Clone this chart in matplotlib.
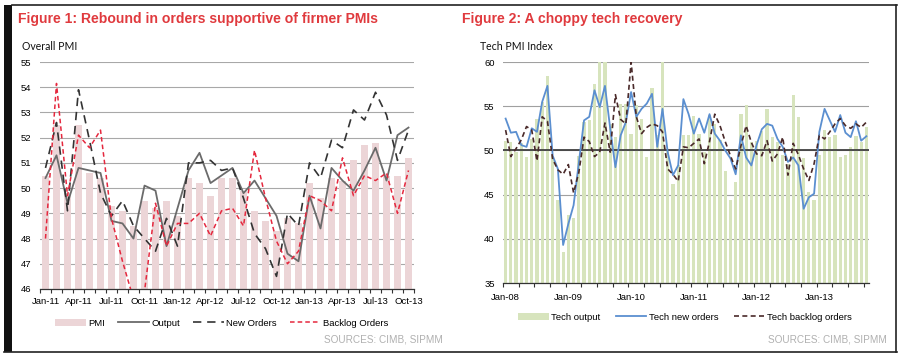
import numpy as np
import matplotlib
matplotlib.use("Agg")
import matplotlib.pyplot as plt
from matplotlib.lines import Line2D
from matplotlib.patches import Rectangle

plt.rcParams['font.family'] = ['Liberation Sans', 'DejaVu Sans']

# ---- Figure 1: overall PMI, Jan-11 .. Oct-13 (monthly)
ticks1 = ['Jan-11', 'Apr-11', 'Jul-11', 'Oct-11', 'Jan-12', 'Apr-12',
          'Jul-12', 'Oct-12', 'Jan-13', 'Apr-13', 'Jul-13', 'Oct-13']
pmi = [50.5, 52.5, 49.8, 52.5, 50.6, 50.4, 49.3, 49.1, 48.5, 49.5, 49.2, 49.5,
       48.9, 50.4, 50.2, 49.7, 50.4, 50.4, 49.9, 49.1, 48.7, 48.3, 48.8, 48.6,
       50.2, 49.6, 50.4, 50.3, 51.1, 51.7, 51.8, 50.5, 50.5, 51.2]
output = [50.4, 51.3, 49.4, 50.8, 50.7, 50.6, 48.7, 48.6, 48.0, 50.1, 49.9, 47.7,
          49.2, 50.7, 51.4, 50.2, 50.5, 50.8, 49.8, 50.3, 49.6, 48.9, 47.4, 47.1,
          49.7, 48.4, 50.8, 50.3, 49.9, 50.7, 51.6, 50.3, 52.1, 52.4]
new_orders = [50.8, 52.6, 49.1, 53.9, 51.9, 49.8, 48.9, 49.5, 48.5, 48.0, 47.5, 48.8,
              47.7, 51.0, 51.0, 51.1, 50.7, 50.8, 49.6, 48.2, 47.6, 46.5, 49.0, 48.5,
              51.0, 50.4, 51.9, 51.6, 53.1, 52.7, 53.8, 52.9, 51.1, 52.3]
backlog = [48.0, 54.15, 49.7, 52.1, 51.6, 52.3, 48.8, 47.1, 45.6, 45.9, 49.4, 47.7,
           48.6, 48.6, 49.0, 48.1, 49.1, 49.2, 48.5, 51.5, 49.6, 47.9, 47.0, 47.5,
           49.7, 49.5, 49.1, 51.2, 49.7, 50.5, 50.3, 50.6, 49.0, 50.7]

# ---- Figure 2: tech PMI, Jan-08 .. Oct-13 (monthly)
ticks2 = ['Jan-08', 'Jan-09', 'Jan-10', 'Jan-11', 'Jan-12', 'Jan-13']
tech_output = [51.1, 51.0, 49.8, 50.8, 49.2, 51.3, 53.6, 55.5, 58.4, 49.4, 44.4, 38.5,
               42.7, 42.3, 49.4, 53.2, 53.4, 57.5, 60.0, 60.0, 53.0, 51.5, 55.3, 55.2,
               51.9, 55.1, 53.6, 49.2, 57.1, 51.7, 60.0, 50.0, 46.2, 48.3, 51.7, 51.7,
               53.9, 51.9, 49.8, 54.0, 53.0, 51.2, 47.7, 44.4, 46.4, 54.1, 55.1, 51.0,
               51.1, 52.2, 54.7, 51.5, 50.9, 49.5, 48.5, 56.3, 53.8, 49.1, 45.3, 44.4,
               49.5, 52.3, 51.5, 51.7, 49.2, 49.5, 50.4, 51.6, 51.0, 52.6]
tech_new = [53.6, 52.0, 52.1, 50.6, 50.4, 52.5, 52.1, 55.5, 57.3, 49.4, 47.9, 39.3,
            41.7, 43.8, 48.6, 53.4, 53.8, 56.8, 54.9, 57.3, 52.5, 48.1, 51.7, 53.2,
            56.6, 53.8, 54.7, 55.3, 56.4, 50.4, 54.7, 49.8, 47.2, 48.3, 55.8, 54.1,
            51.9, 53.6, 52.0, 54.1, 51.9, 51.1, 50.0, 49.1, 47.3, 51.7, 49.2, 48.3,
            50.6, 52.4, 53.0, 52.8, 51.3, 50.4, 48.7, 49.2, 48.3, 43.4, 44.7, 45.1,
            52.1, 54.7, 53.4, 52.1, 54.0, 52.0, 51.5, 53.3, 51.1, 51.6]
tech_backlog = [52.3, 49.3, 50.2, 51.2, 52.7, 52.3, 48.8, 53.8, 53.3, 49.0, 47.8, 47.3,
                48.4, 45.2, 47.5, 51.5, 51.0, 49.3, 49.8, 53.1, 49.8, 56.3, 53.5, 53.0,
                60.0, 53.8, 51.9, 52.6, 53.0, 52.8, 52.1, 47.9, 47.3, 46.5, 50.4, 50.3,
                50.8, 51.3, 48.5, 51.0, 54.1, 52.8, 51.0, 49.4, 47.9, 50.5, 52.8, 50.9,
                49.6, 49.4, 51.1, 48.8, 49.6, 51.5, 47.2, 50.8, 49.5, 47.9, 46.6, 48.5,
                51.7, 51.3, 52.1, 53.0, 53.6, 52.8, 52.5, 53.0, 52.6, 53.2]

W, H = 900, 358
fig = plt.figure(figsize=(9, 3.58), dpi=100)


def fx(px):
    return px / W


def fy(py):
    return 1 - py / H


# frame of the screenshot
fig.add_artist(Rectangle((fx(4), fy(352)), fx(8), fy(5) - fy(352),
                         transform=fig.transFigure, color='#111111', lw=0))
for xs, ys in [((12, 897), (5, 5)), ((4, 897), (352, 352)), ((896, 896), (5, 352))]:
    fig.add_artist(Line2D([fx(xs[0]), fx(xs[1])], [fy(ys[0]), fy(ys[1])],
                          transform=fig.transFigure, color='#222222', lw=1.2))

red = '#e03a3e'
fig.text(fx(18), fy(19), 'Figure 1: Rebound in orders supportive of firmer PMIs',
         color=red, fontsize=10.1, fontweight='bold', va='center')
fig.text(fx(462), fy(19), 'Figure 2: A choppy tech recovery',
         color=red, fontsize=10.1, fontweight='bold', va='center')
fig.text(fx(22), fy(47), 'Overall PMI', fontsize=7.6, va='center',
         family=['Lato', 'DejaVu Sans'], color='#111111')
fig.text(fx(480), fy(47), 'Tech PMI Index', fontsize=7.6, va='center',
         family=['Lato', 'DejaVu Sans'], color='#111111')
fig.text(fx(443), fy(340), 'SOURCES: CIMB, SIPMM', fontsize=7.2, color='#b0b0b0',
         ha='right', va='center')
fig.text(fx(887), fy(340), 'SOURCES: CIMB, SIPMM', fontsize=7.2, color='#b0b0b0',
         ha='right', va='center')

# ---------------- left chart
ax1 = fig.add_axes([fx(40), fy(289), fx(414) - fx(40), fy(62) - fy(289)])
x1 = np.arange(len(pmi))
ax1.bar(x1, pmi, width=0.72, color='#ecd5d7', label='PMI', zorder=2)
ax1.plot(x1, output, color='#6b6b6b', lw=1.3, label='Output', zorder=3)
ax1.plot(x1, new_orders, color='#333333', lw=1.2, dashes=(5, 3.5),
         label='New Orders', zorder=4)
ax1.plot(x1, backlog, color='#e5283e', lw=1.1, dashes=(3, 2),
         label='Backlog Orders', zorder=5)
ax1.set_xlim(-0.5, len(pmi) - 0.5)
ax1.set_ylim(46, 55)
ax1.set_yticks(range(46, 56))
ax1.set_xticks(x1[::3])
ax1.set_xticklabels(ticks1)
ax1.set_xticks(np.arange(-0.5, len(pmi)), minor=True)
ax1.yaxis.grid(True, color='#a8a8a8', lw=0.8)
ax1.set_axisbelow(True)
for s in ['left', 'right', 'top']:
    ax1.spines[s].set_visible(False)
ax1.spines['bottom'].set_color('#333333')
ax1.spines['bottom'].set_linewidth(0.9)
ax1.tick_params(axis='x', which='major', length=0, pad=6, labelsize=6.8)
ax1.tick_params(axis='x', which='minor', length=3, width=0.8, color='#333333')
ax1.tick_params(axis='y', length=0, pad=6, labelsize=6.8)
h, l = ax1.get_legend_handles_labels()
fig.legend(h[-1:] + h[:-1], l[-1:] + l[:-1], loc='center',
           bbox_to_anchor=(fx(222), fy(323)), ncol=4, frameon=False,
           fontsize=6.8, handlelength=3.2, handleheight=0.8,
           handletextpad=0.3, columnspacing=1.4)

# ---------------- right chart
ax2 = fig.add_axes([fx(503), fy(283), fx(869) - fx(503), fy(62) - fy(283)])
x2 = np.arange(len(tech_output))
ax2.bar(x2, tech_output, width=0.62, color='#d7e4bd', label='Tech output', zorder=2)
ax2.plot(x2, tech_new, color='#5b8fd0', lw=1.3, label='Tech new orders', zorder=4)
ax2.plot(x2, tech_backlog, color='#4a2a2a', lw=1.2, dashes=(3, 2),
         label='Tech backlog orders', zorder=5)
ax2.axhline(50, color='#404040', lw=1.3, zorder=3)
ax2.set_xlim(-0.5, len(tech_output) - 0.5)
ax2.set_ylim(35, 60)
ax2.set_yticks(range(35, 61, 5))
ax2.set_xticks(x2[::12])
ax2.set_xticklabels(ticks2)
ax2.set_xticks(np.arange(-0.5, len(tech_output), 3), minor=True)
ax2.yaxis.grid(True, color='#a0a0a0', lw=0.8)
ax2.set_axisbelow(True)
for s in ['left', 'right', 'top']:
    ax2.spines[s].set_visible(False)
ax2.spines['bottom'].set_color('#333333')
ax2.spines['bottom'].set_linewidth(0.9)
ax2.tick_params(axis='x', which='major', length=0, pad=7, labelsize=6.8)
ax2.tick_params(axis='x', which='minor', length=3, width=0.8, color='#333333')
ax2.tick_params(axis='y', length=0, pad=6, labelsize=6.8)
h, l = ax2.get_legend_handles_labels()
fig.legend(h[-1:] + h[:-1], l[-1:] + l[:-1], loc='center',
           bbox_to_anchor=(fx(685), fy(317)), ncol=3, frameon=False,
           fontsize=6.8, handlelength=3.2, handleheight=0.8,
           handletextpad=0.3, columnspacing=1.6)

fig.savefig('out.png', dpi=100)
